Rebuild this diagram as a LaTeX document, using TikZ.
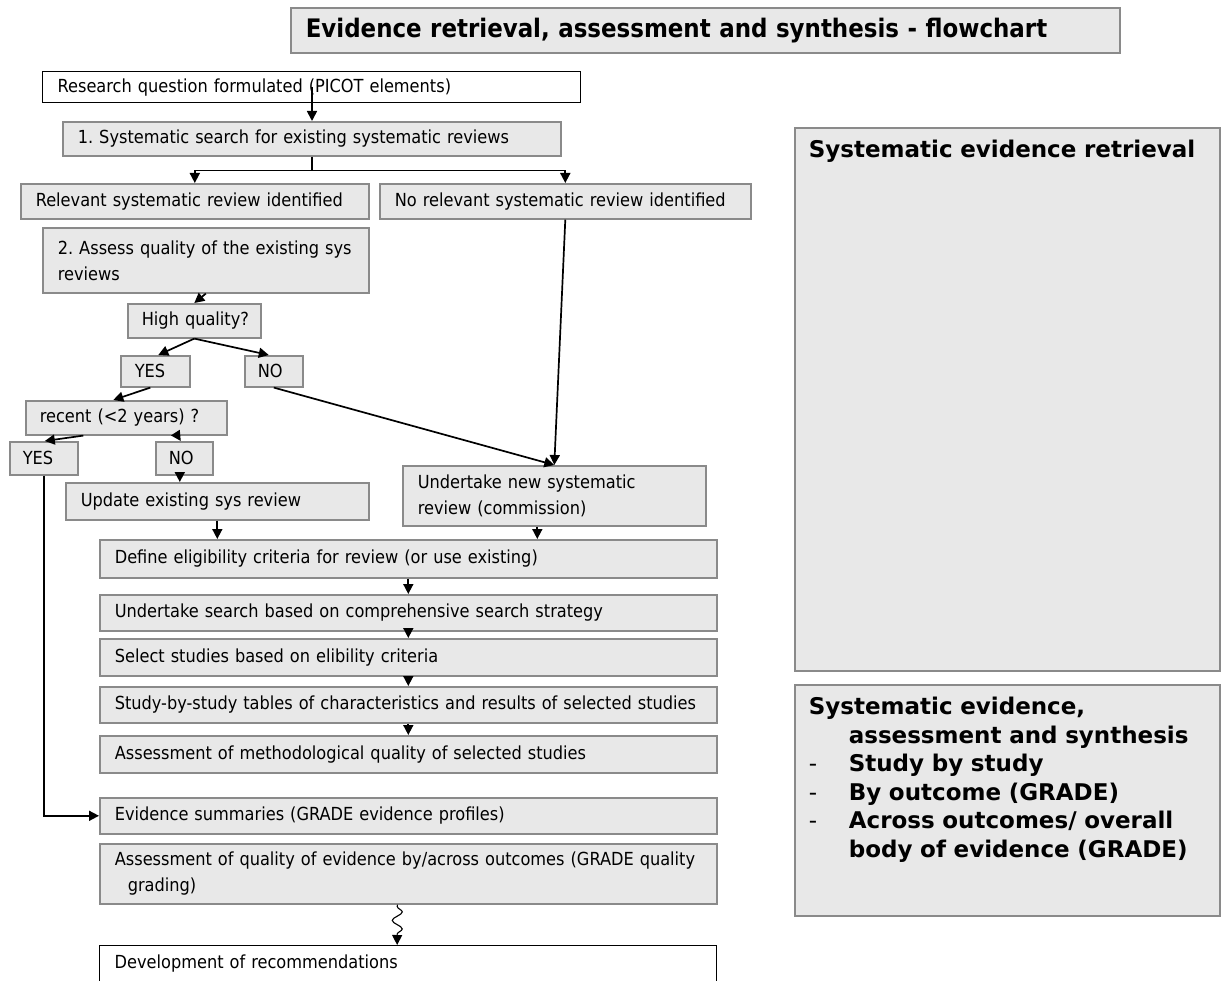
\documentclass[tikz,border=0pt]{standalone}
\usepackage{fontspec}
\setmainfont{DejaVu Sans Condensed}
\newfontfamily\wideb{DejaVu Sans}
\usetikzlibrary{arrows.meta,decorations.pathmorphing,calc}
\definecolor{boxfill}{HTML}{E8E8E8}
\definecolor{boxline}{HTML}{8A8A8A}
\frenchspacing
\tikzset{
  gbox/.style={draw=boxline, fill=boxfill, line width=1.6pt, anchor=north west,
    inner xsep=15pt, inner ysep=0pt, align=left,
    font=\fontsize{18}{26}\selectfont},
  wbox/.style={gbox, draw=black, fill=white, line width=1.3pt},
  rbox/.style={gbox, inner xsep=14pt, font=\wideb\bfseries\fontsize{23}{28.5}\selectfont},
  plain/.style={line width=1.7pt, black},
  conn/.style={plain, -{Triangle[length=10pt,width=10pt]}},
}
\begin{document}
\begin{tikzpicture}[x=1pt,y=-1pt]
\useasboundingbox (0,0) rectangle (1221,981);
\clip (0,0) rectangle (1221,981);

% title
\node[gbox, text width=799pt, minimum height=45pt, font=\bfseries\fontsize{25.5}{30}\selectfont] (title) at (290,7) {\mbox{Evidence retrieval, assessment and synthesis - flowchart}};

% left flow
\node[wbox, text width=508pt, minimum height=31pt] (rq) at (42,71) {\mbox{Research question formulated (PICOT elements)}};
\node[gbox, text width=468pt, minimum height=34pt] (b1) at (62,121) {\mbox{1. Systematic search for existing systematic reviews}};
\node[gbox, text width=318pt, minimum height=35pt] (rel) at (20,183) {\mbox{Relevant systematic review identified}};
\node[gbox, text width=341pt, minimum height=35pt] (norel) at (379,183) {\mbox{No relevant systematic review identified}};
\node[gbox, text width=296pt, minimum height=65pt] (ass) at (42,227) {\mbox{2. Assess quality of the existing sys}\\\mbox{reviews}};
\node[gbox, inner xsep=14pt, text width=105pt, minimum height=34pt] (hq) at (127,303) {\mbox{High quality?}};
\node[gbox, inner xsep=14pt, text width=41pt, minimum height=31pt] (yes1) at (120,355) {\mbox{YES}};
\node[gbox, inner xsep=13pt, text width=32pt, minimum height=31pt] (no1) at (244,355) {\mbox{NO}};
\node[gbox, inner xsep=14pt, text width=173pt, minimum height=34pt] (rec) at (25,400) {\mbox{recent (<2 years) ?}};
\node[gbox, inner xsep=13pt, text width=42pt, minimum height=33pt] (yes2) at (9,441) {\mbox{YES}};
\node[gbox, inner xsep=13pt, text width=31pt, minimum height=33pt] (no2) at (155,441) {\mbox{NO}};
\node[gbox, text width=273pt, minimum height=37pt] (upd) at (65,482) {\mbox{Update existing sys review}};
\node[gbox, text width=273pt, minimum height=60pt] (unt) at (402,465) {\mbox{Undertake new systematic}\\\mbox{review (commission)}};
\node[gbox, text width=587pt, minimum height=38pt] (def) at (99,539) {\mbox{Define eligibility criteria for review (or use existing)}};
\node[gbox, text width=587pt, minimum height=36pt] (srch) at (99,594) {\mbox{Undertake search based on comprehensive search strategy}};
\node[gbox, text width=587pt, minimum height=37pt] (sel) at (99,638) {\mbox{Select studies based on elibility criteria}};
\node[gbox, text width=587pt, minimum height=36pt] (sbs) at (99,686) {\mbox{Study-by-study tables of characteristics and results of selected studies}};
\node[gbox, text width=587pt, minimum height=37pt] (meth) at (99,735) {\mbox{Assessment of methodological quality of selected studies}};
\node[gbox, text width=587pt, minimum height=36pt] (evs) at (99,797) {\mbox{Evidence summaries (GRADE evidence profiles)}};
\node[gbox, text width=587pt, minimum height=60pt] (aq) at (99,843) {\mbox{Assessment of quality of evidence by/across outcomes (GRADE quality}\\\mbox{\hspace*{13pt}grading)}};
\node[wbox, text width=587pt, text height=23pt, text depth=45pt] (dev) at (99,945) {\mbox{Development of recommendations}};

% right boxes
\node[rbox, text width=397pt, text height=30pt, text depth=513pt] (rb1) at (794,127) {\mbox{Systematic evidence retrieval}};
\node[rbox, text width=397pt, text height=30pt, text depth=201pt] (rb2) at (794,684) {\mbox{Systematic evidence,}\\
\mbox{\hspace*{40pt}assessment and synthesis}\\
\mbox{\makebox[40pt][l]{\mdseries-}Study by study}\\
\mbox{\makebox[40pt][l]{\mdseries-}By outcome (GRADE)}\\
\mbox{\makebox[40pt][l]{\mdseries-}Across outcomes/ overall}\\
\mbox{\hspace*{40pt}body of evidence (GRADE)}};

% connectors
\coordinate (rqa) at (312,87);
\draw[conn] (rqa) -- (rqa |- b1.north);
\draw[plain] (b1.south) -- ++(0,14) coordinate (sp);
\draw[conn] (sp) -| (rel.north);
\draw[conn] (sp) -| (norel.north);
\draw[conn] (ass.south) -- (hq.north);
\draw[conn] (hq.south) -- ($(yes1.north)+(3,0)$);
\draw[conn] (hq.south) -- ($(no1.north)+(-5,0)$);
\draw[conn] ($(yes1.south)+(-5,0)$) -- ($(rec.north)+(-13,0)$);
\draw[conn] ($(rec.south)+(-43,0)$) -- ($(yes2.north)+(1,0)$);
\draw[conn] ($(rec.south)+(51,0)$) -- ($(no2.north)+(-3.5,0)$);
\coordinate (n2s) at ($(no2.south)+(-4.5,0)$);
\draw[conn] (n2s) -- (n2s |- upd.north);
\draw[conn] (no1.south) -- (unt.north);
\draw[conn] (norel.south) -- (unt.north);
\draw[conn] (upd.south) -- (upd.south |- def.north);
\coordinate (uts) at ($(unt.south)+(-17,0)$);
\draw[conn] (uts) -- (uts |- def.north);
\draw[conn] (def.south) -- (srch.north);
\draw[conn] (srch.south) -- (sel.north);
\draw[conn] (sel.south) -- (sbs.north);
\draw[conn] (sbs.south) -- (meth.north);
\draw[conn] (yes2.south) |- (evs.west);
\draw[conn, line width=1.1pt, decorate, decoration={snake, amplitude=5pt, segment length=17pt, pre length=2pt, post length=8pt}] ($(aq.south)+(-11,0)$) -- ($(dev.north)+(-11,0)$);
\end{tikzpicture}
\end{document}
